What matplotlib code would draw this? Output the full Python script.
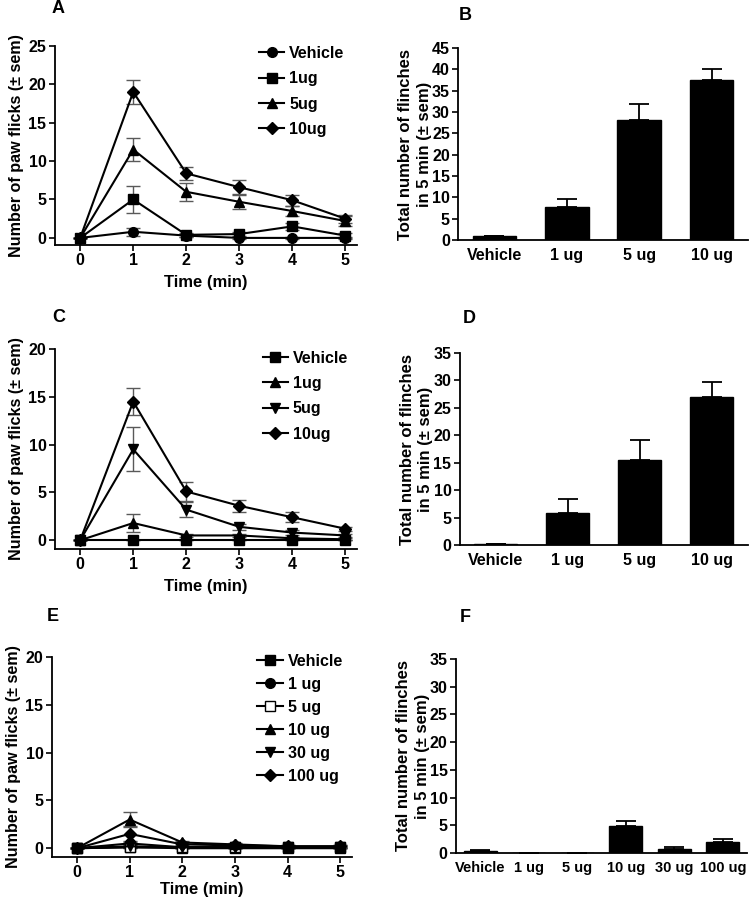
import matplotlib
matplotlib.use('Agg')
import matplotlib.pyplot as plt

plt.rcParams['font.family'] = ['Liberation Sans', 'DejaVu Sans']
plt.rcParams['font.weight'] = 'bold'
plt.rcParams['axes.labelweight'] = 'bold'

time_min = [0, 1, 2, 3, 4, 5]

# panel A
a_labels = ['Vehicle', '1ug', '5ug', '10ug']
a_markers = ['o', 's', '^', 'D']
a_vals = [
    [0, 0.8, 0.3, 0.0, 0.0, 0.0],
    [0, 5.0, 0.4, 0.5, 1.5, 0.3],
    [0, 11.5, 6.0, 4.7, 3.5, 2.2],
    [0, 19.0, 8.4, 6.6, 4.9, 2.5],
]
a_err = [
    [0, 0.5, 0.2, 0.1, 0.1, 0.1],
    [0, 1.8, 0.3, 0.3, 0.5, 0.3],
    [0, 1.5, 1.2, 1.0, 0.7, 0.6],
    [0, 1.6, 0.8, 1.0, 0.7, 0.5],
]

# panel B
b_labels = ['Vehicle', '1 ug', '5 ug', '10 ug']
b_vals = [1.0, 7.7, 28.1, 37.5]
b_err = [0.0, 2.0, 3.8, 2.6]

# panel C
c_labels = ['Vehicle', '1ug', '5ug', '10ug']
c_markers = ['s', '^', 'v', 'D']
c_vals = [
    [0, 0.0, 0.0, 0.0, 0.0, 0.0],
    [0, 1.8, 0.5, 0.5, 0.2, 0.1],
    [0, 9.5, 3.2, 1.4, 0.8, 0.5],
    [0, 14.5, 5.1, 3.6, 2.4, 1.2],
]
c_err = [
    [0, 0.0, 0.0, 0.0, 0.0, 0.0],
    [0, 0.9, 0.2, 0.2, 0.1, 0.1],
    [0, 2.3, 0.8, 0.3, 0.3, 0.2],
    [0, 1.4, 1.0, 0.6, 0.5, 0.2],
]

# panel D
d_labels = ['Vehicle', '1 ug', '5 ug', '10 ug']
d_vals = [0.1, 5.8, 15.5, 26.9]
d_err = [0.0, 2.5, 3.7, 2.9]

# panel E
e_labels = ['Vehicle', '1 ug', '5 ug', '10 ug', '30 ug', '100 ug']
e_markers = ['s', 'o', 's', '^', 'v', 'D']
e_open = [False, False, True, False, False, False]
e_vals = [
    [0, 0.1, 0.0, 0.0, 0.0, 0.0],
    [0, 0.5, 0.1, 0.1, 0.1, 0.1],
    [0, 0.1, 0.1, 0.1, 0.1, 0.1],
    [0, 3.0, 0.6, 0.4, 0.2, 0.2],
    [0, 0.2, 0.1, 0.1, 0.1, 0.1],
    [0, 1.5, 0.4, 0.3, 0.2, 0.2],
]
e_err = [
    [0, 0.1, 0.0, 0.0, 0.0, 0.0],
    [0, 0.3, 0.1, 0.1, 0.1, 0.1],
    [0, 0.1, 0.1, 0.1, 0.1, 0.1],
    [0, 0.8, 0.2, 0.1, 0.1, 0.1],
    [0, 0.1, 0.1, 0.1, 0.1, 0.1],
    [0, 0.8, 0.2, 0.1, 0.1, 0.1],
]

# panel F
f_labels = ['Vehicle', '1 ug', '5 ug', '10 ug', '30 ug', '100 ug']
f_vals = [0.4, 0.05, 0.05, 4.8, 0.8, 2.0]
f_err = [0.1, 0.0, 0.0, 1.0, 0.2, 0.6]


def style_axes(ax):
    ax.spines['top'].set_visible(False)
    ax.spines['right'].set_visible(False)
    ax.spines['left'].set_linewidth(1.3)
    ax.spines['bottom'].set_linewidth(1.3)
    ax.tick_params(labelsize=11.5, width=1.2, length=4, pad=2)


def line_panel(ax, vals, errs, labels, markers, ymax, opens=None, leg_pos=(0, 0),
               leg_space=0.65, xpad=5):
    for i in range(len(vals)):
        mfc = 'white' if (opens and opens[i]) else 'black'
        ms = 6 if markers[i] == 'D' else 7
        ax.errorbar(time_min, vals[i], yerr=errs[i], fmt='-', marker=markers[i],
                    color='black', mfc=mfc, mec='black', ms=ms, lw=1.5,
                    ecolor='0.35', elinewidth=1, capsize=5, label=labels[i])
    style_axes(ax)
    ax.set_xlim(-0.48, 5.22)
    ax.set_ylim(-0.92, ymax)
    ax.spines['left'].set_bounds(-0.92, ymax)
    ax.set_yticks(range(0, ymax + 1, 5))
    ax.set_xticks(time_min)
    ax.set_xlabel('Time (min)', fontsize=12, labelpad=xpad)
    ax.set_ylabel('Number of paw flicks (± sem)', fontsize=11.6, labelpad=3)
    handles, labs = ax.get_legend_handles_labels()
    handles = [h[0] for h in handles]
    ax.legend(handles, labs, loc='upper left', bbox_to_anchor=leg_pos,
              bbox_transform=fig.transFigure, frameon=False, fontsize=11.5,
              handlelength=1.6, handletextpad=0.3, borderpad=0, labelspacing=leg_space,
              borderaxespad=0)


def bar_panel(ax, vals, errs, labels, ymax, width, xsize=11.5):
    xs = list(range(len(vals)))
    ax.bar(xs, vals, width=width, color='black', edgecolor='black')
    ax.errorbar(xs, vals, yerr=[[0] * len(errs), errs], fmt='none', ecolor='black',
                elinewidth=1.3, capsize=7, capthick=1.3)
    style_axes(ax)
    ax.set_xlim(-0.5, len(vals) - 0.5)
    ax.set_ylim(0, ymax)
    ax.set_yticks(range(0, ymax + 1, 5))
    ax.set_xticks(xs)
    ax.set_xticklabels(labels, fontsize=xsize)
    ax.tick_params(axis='x', length=0, pad=6)
    ax.set_ylabel('Total number of flinches\nin 5 min (± sem)', fontsize=12,
                  labelpad=0, linespacing=1.3)


fig = plt.figure(figsize=(7.5, 8.99), dpi=100)

ax_a = fig.add_axes([0.073, 0.7275, 0.403, 0.2215])
ax_b = fig.add_axes([0.611, 0.733, 0.386, 0.2136])
ax_c = fig.add_axes([0.073, 0.3893, 0.403, 0.2225])
ax_d = fig.add_axes([0.613, 0.3938, 0.384, 0.2135])
ax_e = fig.add_axes([0.069, 0.0467, 0.400, 0.2225])
ax_f = fig.add_axes([0.608, 0.0512, 0.388, 0.2158])

line_panel(ax_a, a_vals, a_err, a_labels, a_markers, 25, leg_pos=(0.345, 0.949))
bar_panel(ax_b, b_vals, b_err, b_labels, 45, 0.6)
line_panel(ax_c, c_vals, c_err, c_labels, c_markers, 20, leg_pos=(0.35, 0.610))
bar_panel(ax_d, d_vals, d_err, d_labels, 35, 0.6)
line_panel(ax_e, e_vals, e_err, e_labels, e_markers, 20, opens=e_open,
           leg_pos=(0.343, 0.2725), leg_space=0.5, xpad=1)
bar_panel(ax_f, f_vals, f_err, f_labels, 35, 0.68, xsize=10.5)

for lab, x, y in [('A', 0.069, 0.991), ('B', 0.611, 0.983), ('C', 0.069, 0.647),
                  ('D', 0.617, 0.646), ('E', 0.063, 0.314), ('F', 0.613, 0.313)]:
    fig.text(x, y, lab, fontsize=13, fontweight='bold', va='center', ha='left')

fig.savefig('out.png', dpi=100)
